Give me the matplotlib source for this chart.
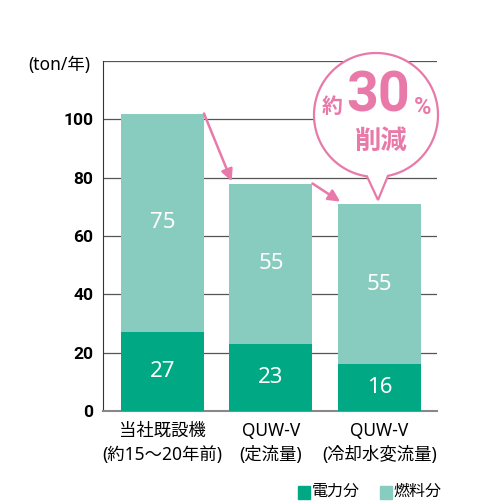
import numpy as np
import matplotlib.pyplot as plt
from matplotlib.patches import Polygon, Rectangle

plt.rcParams['font.family'] = ['Noto Sans', 'Noto Sans CJK JP']
bold_fam = ['Roboto', 'Noto Sans CJK JP']

# data
categories = ['当社既設機\n(約15〜20年前)', 'QUW-V\n(定流量)', 'QUW-V\n(冷却水変流量)']
power = [27, 23, 16]   # 電力分
fuel = [75, 55, 55]    # 燃料分

dark = '#00a984'
light = '#88cbbf'
pink = '#e879a9'

fig = plt.figure(figsize=(4.8, 5.04), dpi=100)
ax = fig.add_axes([103 / 480, 1 - 411 / 504, 334 / 480, 350 / 504])

x = np.arange(len(categories))
w = 0.765
ax.bar(x, power, w, color=dark, zorder=3)
ax.bar(x, fuel, w, bottom=power, color=light, zorder=3)

for i in range(len(x)):
    ax.text(x[i], power[i] / 2, str(power[i]), color='white', fontsize=16,
            ha='center', va='center', zorder=4)
    ax.text(x[i], power[i] + fuel[i] / 2, str(fuel[i]), color='white', fontsize=16,
            ha='center', va='center', zorder=4)

ax.set_xlim(-0.548, 2.53)
ax.set_ylim(0, 120)
ax.set_yticks([0, 20, 40, 60, 80, 100])
ax.set_yticklabels(['0', '20', '40', '60', '80', '100'], fontweight='bold', fontsize=12.5,
                   family=bold_fam)
ax.set_xticks(x)
ax.set_xticklabels(categories, fontsize=12.5, linespacing=1.4)
ax.tick_params(axis='y', length=0, pad=7)
ax.tick_params(axis='x', length=0, pad=8)
for yv in [20, 40, 60, 80, 100, 120]:
    ax.axhline(yv, color='#555555', lw=0.9, zorder=1)
ax.spines['right'].set_visible(False)
ax.spines['top'].set_visible(False)
ax.spines['left'].set_color('#333333')
ax.spines['bottom'].set_color('#888888')
ax.spines['bottom'].set_linewidth(1.5)

fig.text(28 / 480, 1 - 65 / 504, '(ton/年)', fontsize=12.5, va='center', ha='left')

# arrows between bars
tot = [p + f for p, f in zip(power, fuel)]
for i in range(2):
    ax.annotate('', xy=(x[i + 1] - w / 2 + 0.02, tot[i + 1] + 0.8),
                xytext=(x[i] + w / 2, tot[i]),
                arrowprops=dict(arrowstyle='-|>,head_length=0.7,head_width=0.35',
                                color=pink, lw=1.8, shrinkA=0, shrinkB=0),
                zorder=5, annotation_clip=False)

# speech bubble
def fp(px, py):
    return (px / 480, 1 - py / 504)

cx, cy, r = 376, 115, 62
tip = (378, 200)
ang_start = np.arcsin((388 - cx) / r)
ang_end = np.arcsin((367 - cx) / r)
ts = np.linspace(ang_start, 2 * np.pi + ang_end, 200)
pts = [fp(cx + r * np.sin(t), cy + r * np.cos(t)) for t in ts]
pts.append(fp(*tip))
pts.append(pts[0])
bubble = Polygon(pts, closed=True, transform=fig.transFigure, facecolor='white',
                 edgecolor=pink, lw=1.6, zorder=10)
fig.patches.append(bubble)

fig.text(*fp(332, 107), '約', color=pink, fontsize=15, fontweight='bold',
         family=bold_fam, ha='center', va='center', zorder=11)
fig.text(*fp(378, 96), '30', color=pink, fontsize=40, fontweight='bold',
         family=bold_fam, ha='center', va='center', zorder=11)
fig.text(*fp(423, 108), '%', color=pink, fontsize=17, fontweight='bold',
         family=bold_fam, ha='center', va='center', zorder=11)
fig.text(*fp(380, 142), '削減', color=pink, fontsize=19, fontweight='bold',
         family=bold_fam, ha='center', va='center', zorder=11)

# legend
fig.patches.append(Rectangle(fp(298, 499), 12 / 480, 13 / 504, transform=fig.transFigure,
                             color=dark))
fig.text(*fp(312, 492), '電力分', fontsize=11.5, va='center', ha='left')
fig.patches.append(Rectangle(fp(380, 499), 12 / 480, 13 / 504, transform=fig.transFigure,
                             color=light))
fig.text(*fp(393, 492), '燃料分', fontsize=11.5, va='center', ha='left')

fig.savefig('out.png', dpi=100)
